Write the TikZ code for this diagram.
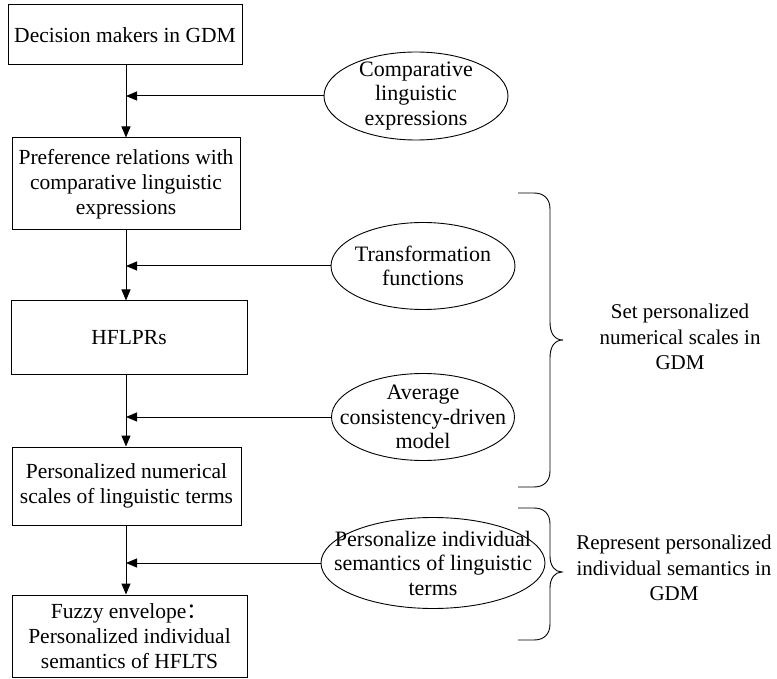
\documentclass[tikz,border=0pt]{standalone}
\usepackage{fontspec}
\setmainfont{Liberation Serif}
\newfontfamily\cjk{Noto Sans CJK SC}
\usetikzlibrary{shapes.geometric,arrows.meta}
\tikzset{
  every picture/.style={x=1pt,y=-1pt},
  box/.style={draw,line width=1pt,rectangle,inner sep=0pt,align=center,font=\fontsize{21.5}{25}\selectfont},
  oval/.style={draw,line width=0.9pt,ellipse,inner sep=0pt},
  ovaltxt/.style={align=center,inner sep=0pt,font=\fontsize{22}{24.5}\selectfont},
  lbl/.style={align=center,inner sep=0pt,font=\fontsize{21}{25.5}\selectfont},
  conn/.style={line width=1pt,-{Triangle[length=11pt,width=9pt]}},
  brc/.style={line width=0.9pt}
}
\begin{document}
\begin{tikzpicture}
\useasboundingbox (0,0) rectangle (777,679);
\coordinate (spine) at (126,0);
\node[box,minimum width=234pt,minimum height=60pt] (b1) at (125,35) {Decision makers in GDM};
\node[box,minimum width=228pt,minimum height=92pt] (b2) at (126,184) {Preference relations with\\comparative linguistic\\expressions};
\node[box,minimum width=236pt,minimum height=73pt] (b3) at (129,337.5) {HFLPRs};
\node[box,minimum width=229pt,minimum height=78pt] (b4) at (126.5,486) {Personalized numerical\\scales of linguistic terms};
\node[box,minimum width=235pt,minimum height=82pt] (b5) at (129.5,636) {Fuzzy envelope{\cjk ：}\\Personalized individual\\semantics of HFLTS};

\node[oval,minimum width=184pt,minimum height=88pt,label={[ovaltxt]center:Comparative\\linguistic\\expressions}] (e1) at (416,96) {};
\node[oval,minimum width=184pt,minimum height=87pt,label={[ovaltxt]center:Transformation\\functions}] (e2) at (423,266) {};
\node[oval,minimum width=183pt,minimum height=87pt,label={[ovaltxt]center:Average\\consistency-driven\\model}] (e3) at (423,417) {};
\node[oval,minimum width=224pt,minimum height=91pt,label={[ovaltxt]center:Personalize individual\\semantics of linguistic\\terms}] (e4) at (433,563) {};

\draw[conn] (b1.south -| spine) -- (b2.north -| spine);
\draw[conn] (b2.south -| spine) -- (b3.north -| spine);
\draw[conn] (b3.south -| spine) -- (b4.north -| spine);
\draw[conn] (b4.south -| spine) -- (b5.north -| spine);

\draw[conn] (e1.west) -- (e1.west -| spine);
\draw[conn] (e2.west) -- (e2.west -| spine);
\draw[conn] (e3.west) -- (e3.west -| spine);
\draw[conn] (e4.west) -- (e4.west -| spine);

\draw[brc] (518,193) -- (534,193) .. controls (544,193) and (550,199) .. (550,209)
  -- (550,322) .. controls (550,334) and (555,340) .. (563,340)
  .. controls (555,340) and (550,346) .. (550,358)
  -- (550,471) .. controls (550,481) and (544,487) .. (534,487) -- (518,487);
\draw[brc] (518,508) -- (534,508) .. controls (544,508) and (550,514) .. (550,524)
  -- (550,556) .. controls (550,566) and (555,572) .. (562,572)
  .. controls (555,572) and (550,578) .. (550,588)
  -- (550,624) .. controls (550,634) and (544,640) .. (534,640) -- (518,640);

\node[lbl] (t1) at (680,337) {Set personalized\\numerical scales in\\GDM};
\node[lbl] (t2) at (674,568) {Represent personalized\\individual semantics in\\GDM};
\end{tikzpicture}
\end{document}
